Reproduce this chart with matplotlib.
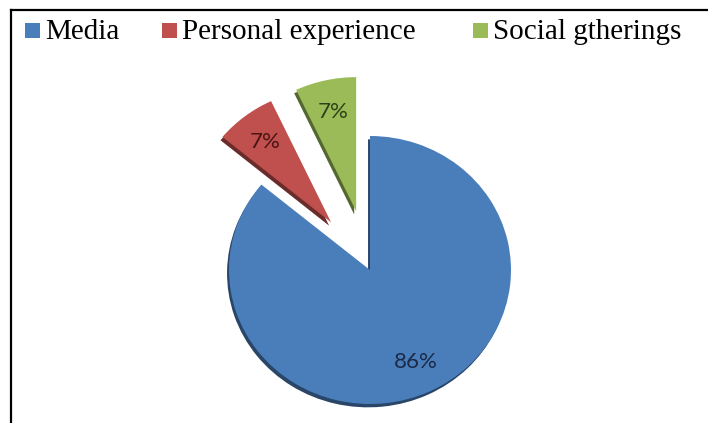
import matplotlib
matplotlib.use('Agg')
import matplotlib.pyplot as plt
from matplotlib.lines import Line2D
from matplotlib.patches import Rectangle

# Datos del gráfico
categories = ['Media', 'Personal experience', 'Social gtherings']
values = [86, 7, 7]
colors = ['#4A7EBB', '#C0504D', '#9BBB59']
label_colors = ['#1B2A48', '#4A1414', '#2C4218']

W, H = 708, 423
fig = plt.figure(figsize=(W / 100, H / 100), dpi=100)

# Ejes colocados en píxeles: centro del pastel en (370, 270), radios 141 x 134
cx, cy, rx, ry = 370, 270, 141, 134
a, c = 2.0, 1.5
ax = fig.add_axes([(cx - a * rx) / W, (H - cy - c * ry) / H, 2 * a * rx / W, 2 * c * ry / H])

wedges, texts, autotexts = ax.pie(
    values, colors=colors, startangle=90, counterclock=False,
    explode=[0, 0.45, 0.45], autopct='%1.0f%%', pctdistance=0.76,
    shadow={'ox': -0.01, 'oy': -0.018, 'shade': 0.45, 'alpha': 1.0},
    wedgeprops={'linewidth': 0},
    textprops={'fontsize': 16, 'family': 'Lato'})
for t, col in zip(autotexts, label_colors):
    t.set_color(col)

ax.set_aspect('auto')
ax.set_xlim(-a, a)
ax.set_ylim(-c, c)
ax.axis('off')

# Leyenda superior: cuadrado + texto en cada posición de la referencia
legend_x = [25, 162, 473]
for x, name, col in zip(legend_x, categories, colors):
    fig.add_artist(Rectangle((x / W, 1 - 38 / H), 15 / W, 15 / H,
                             transform=fig.transFigure, color=col, lw=0))
    fig.text((x + 20) / W, 1 - 39 / H, name, family='Liberation Serif',
             fontsize=21, va='baseline', ha='left', color='black')

# Borde (arriba e izquierda)
fig.add_artist(Line2D([11 / W, 1], [1 - 10 / H, 1 - 10 / H], color='black', lw=1.6))
fig.add_artist(Line2D([11 / W, 11 / W], [0, 1 - 10 / H], color='black', lw=1.6))

fig.savefig('out.png', dpi=100)
